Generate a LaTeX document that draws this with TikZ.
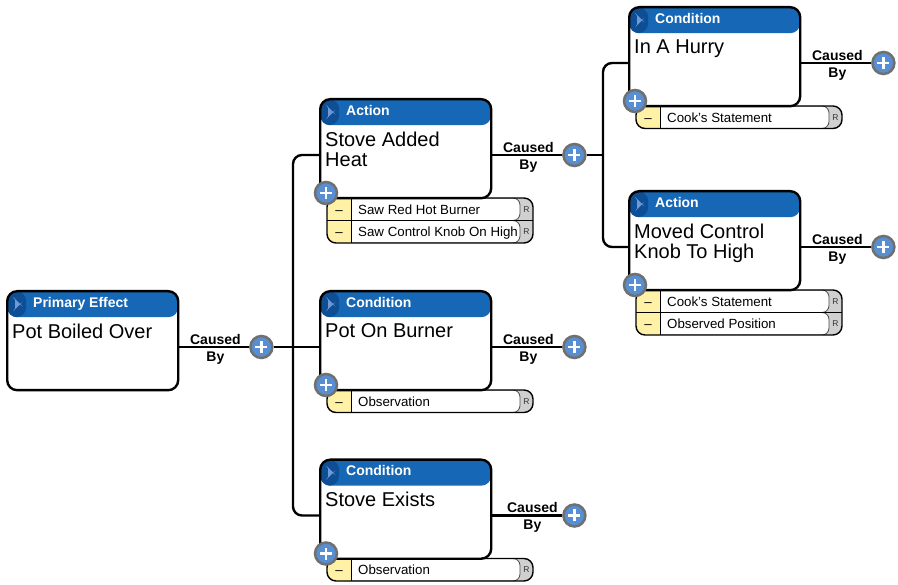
\documentclass[tikz,border=0pt]{standalone}
\usepackage{fontspec}
\setmainfont{Liberation Sans}
\usetikzlibrary{calc}

\definecolor{hdrblue}{RGB}{22,104,182}
\definecolor{hdrdark}{RGB}{14,78,148}
\definecolor{hdrtri}{RGB}{110,155,215}
\definecolor{plusblue}{RGB}{88,142,210}
\definecolor{plusrim}{RGB}{112,112,112}
\definecolor{evyellow}{RGB}{255,241,165}
\definecolor{evgray}{RGB}{208,208,208}

\tikzset{
  wire/.style={line width=2.4pt},
  cbox/.style={draw, line width=2.4pt, rounded corners=10pt, fill=white,
    minimum width=171pt, minimum height=99pt, inner sep=0pt, anchor=north west,
    path picture={
      \fill[hdrblue] (path picture bounding box.north west) rectangle
        ([yshift=-26pt]path picture bounding box.north east);
      \fill[hdrdark] (path picture bounding box.north west) rectangle
        ([xshift=19pt,yshift=-26pt]path picture bounding box.north west);
      \fill[hdrtri] ([xshift=8pt,yshift=-8pt]path picture bounding box.north west)
        -- ++(5,5) -- ++(-5,5) -- cycle;
    }},
  hdrtext/.style={anchor=base west, inner sep=0pt, text=white,
    font=\fontsize{14}{16}\selectfont\bfseries},
  bodytext/.style={anchor=north west, inner sep=0pt, align=left,
    font=\fontsize{20}{20.5}\selectfont},
  cby/.style={align=center, inner sep=0pt,
    font=\fontsize{14}{17}\selectfont\bfseries},
  plus/.style={circle, draw=plusrim, line width=2.5pt, fill=plusblue,
    minimum size=22pt, inner sep=0pt,
    path picture={
      \draw[white, line width=2.4pt]
        ([xshift=-6pt]path picture bounding box.center) --
        ([xshift=6pt]path picture bounding box.center);
      \draw[white, line width=2.4pt]
        ([yshift=-6pt]path picture bounding box.center) --
        ([yshift=6pt]path picture bounding box.center);
    }},
  evtext/.style={anchor=west, inner sep=0pt, text height=9.6pt, text depth=0pt,
    font=\fontsize{13.3}{16}\selectfont},
  evdash/.style={inner sep=0pt, text height=9.6pt, text depth=0pt,
    font=\fontsize{13.3}{16}\selectfont},
  evr/.style={inner sep=0pt, text=black!80, font=\fontsize{8.5}{10}\selectfont},
}

% evidence list hanging below a box: #1 box name, #2 entries
\newcommand{\evlist}[2]{%
  \coordinate (#1ev) at ([xshift=8pt,yshift=-100pt]#1.north west);
  \gdef\evrows{0}%
  \foreach \etxt [count=\k] in {#2} {\xdef\evrows{\k}}%
  \pgfmathsetmacro{\evh}{22.5*\evrows}%
  \begin{scope}
    \clip[rounded corners=9pt] (#1ev) rectangle ++(206,\evh);
    \fill[evgray] (#1ev) rectangle ++(206,\evh);
    \foreach \etxt [count=\k] in {#2} {
      \fill[white, draw=black!70, line width=0.8pt, rounded corners=7pt]
        ($(#1ev)+(12,{22.5*(\k-1)})$) rectangle ++(181,22.5);
    }
    \fill[evyellow] (#1ev) rectangle ++(24,\evh);
  \end{scope}
  \foreach \etxt [count=\k] in {#2} {
    \ifnum\k>1 \draw[line width=1.2pt] ($(#1ev)+(0,{22.5*(\k-1)})$) -- ++(206,0);\fi
    \node[evdash] (#1d\k) at ($(#1ev)+(12,{22.5*\k-11.25})$) {--};
    \node[evtext] (#1e\k) at ($(#1ev)+(31,{22.5*\k-11.25})$) {\etxt};
    \node[evr] (#1r\k) at ($(#1ev)+(199.5,{22.5*\k-11.25})$) {R};
  }
  \draw[line width=1pt] ($(#1ev)+(24,0)$) -- ++(0,\evh);
  \draw[line width=1.4pt, rounded corners=9pt] (#1ev) rectangle ++(206,\evh);
}

\begin{document}
\begin{tikzpicture}[x=1pt,y=-1pt]
\fill[white] (0,0) rectangle (898,585);
\useasboundingbox (0,0) rectangle (898,585);

% boxes (placed first as empty shapes so that anchors exist)
\path
  (6,290)   coordinate (b1nw)
  (319,98)  coordinate (b2nw)
  (319,290) coordinate (b3nw)
  (319,458.5) coordinate (b4nw)
  (628,6)   coordinate (b5nw)
  (628,190) coordinate (b6nw);
\foreach \i in {1,...,6} {
  \path (b\i nw) node[cbox, draw=none, fill=none, path picture={}] (b\i) {};
  \coordinate (b\i l) at ([yshift=-57pt]b\i.north west);
  \coordinate (b\i r) at ([yshift=-57pt]b\i.north east);
}

% "caused by" buttons
\node[plus] (p1) at ([xshift=82pt]b1r) {};
\node[plus] (p2) at ([xshift=82pt]b2r) {};
\node[plus] (p3) at ([xshift=82pt]b3r) {};
\node[plus] (p4) at ([xshift=82pt]b4r) {};
\node[plus] (p5) at ([xshift=82pt]b5r) {};
\node[plus] (p6) at ([xshift=82pt]b6r) {};
\coordinate (t1) at ([xshift=-26pt]b3l);
\coordinate (t2x) at ([xshift=-25pt]b5l);

% connectors
\draw[wire] (b1r) -- (p1) -- (b3l);
\draw[wire, rounded corners=9pt] (b2l) -| (t1) |- (b4l);
\draw[wire] (b2r) -- (p2) -- (t2x |- p2);
\draw[wire, rounded corners=9pt] (b5l) -| (t2x |- p2) |- (b6l);
\draw[wire] (b3r) -- (p3);
\draw[wire] (b4r) -- (p4);
\draw[wire] (b5r) -- (p5);
\draw[wire] (b6r) -- (p6);

% evidence lists
\evlist{b2}{Saw Red Hot Burner, Saw Control Knob On High}
\evlist{b3}{Observation}
\evlist{b4}{Observation}
\evlist{b5}{Cook’s Statement}
\evlist{b6}{Cook’s Statement, Observed Position}

% visible boxes
\foreach \i in {1,...,6} {\node[cbox] (c\i) at (b\i nw) {};}

% headers
\node[hdrtext] (h1) at ([xshift=27pt,yshift=-17.5pt]b1.north west) {Primary Effect};
\node[hdrtext] (h2) at ([xshift=27pt,yshift=-17.5pt]b2.north west) {Action};
\node[hdrtext] (h3) at ([xshift=27pt,yshift=-17.5pt]b3.north west) {Condition};
\node[hdrtext] (h4) at ([xshift=27pt,yshift=-17.5pt]b4.north west) {Condition};
\node[hdrtext] (h5) at ([xshift=27pt,yshift=-17.5pt]b5.north west) {Condition};
\node[hdrtext] (h6) at ([xshift=27pt,yshift=-17.5pt]b6.north west) {Action};

% statements
\node[bodytext] (s1) at ([xshift=6pt,yshift=-33.5pt]b1.north west) {Pot Boiled Over};
\node[bodytext] (s2) at ([xshift=6pt,yshift=-33.5pt]b2.north west) {Stove Added\\Heat};
\node[bodytext] (s3) at ([xshift=6pt,yshift=-33.5pt]b3.north west) {Pot On Burner};
\node[bodytext] (s4) at ([xshift=6pt,yshift=-33.5pt]b4.north west) {Stove Exists};
\node[bodytext] (s5) at ([xshift=6pt,yshift=-33.5pt]b5.north west) {In A Hurry};
\node[bodytext] (s6) at ([xshift=6pt,yshift=-33.5pt]b6.north west) {Moved Control\\Knob To High};

% add-evidence buttons
\foreach \i in {2,...,6} {\node[plus] (q\i) at ([xshift=7pt,yshift=-95pt]b\i.north west) {};}

% connector labels
\node[cby] (l1) at ([xshift=36pt,yshift=-2pt]b1r) {Caused\\By};
\node[cby] (l2) at ([xshift=36pt,yshift=-2pt]b2r) {Caused\\By};
\node[cby] (l3) at ([xshift=36pt,yshift=-2pt]b3r) {Caused\\By};
\node[cby] (l4) at ([xshift=40pt,yshift=-2pt]b4r) {Caused\\By};
\node[cby] (l5) at ([xshift=36pt,yshift=-2pt]b5r) {Caused\\By};
\node[cby] (l6) at ([xshift=36pt,yshift=-2pt]b6r) {Caused\\By};
\end{tikzpicture}
\end{document}
